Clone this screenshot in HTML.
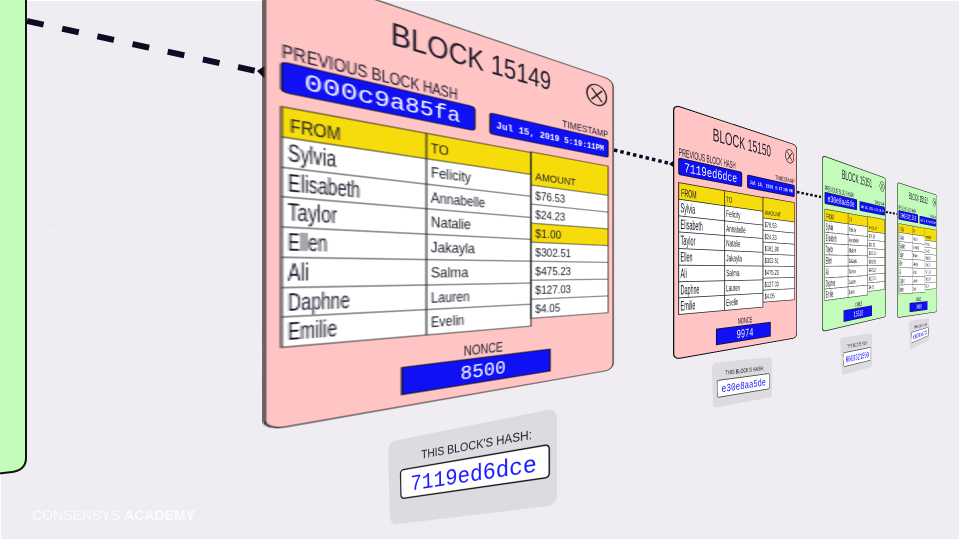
<!DOCTYPE html>
<html><head><meta charset="utf-8"><style>
html,body{margin:0;padding:0;}
body{width:960px;height:540px;overflow:hidden;position:relative;background:#efedf2;}
.bg{position:absolute;left:0;top:0;}
.cd{position:absolute;left:0;top:0;transform-origin:0 0;overflow:visible;}
svg text{font-family:"Liberation Sans",sans-serif;fill:#1c1b2b;}
svg text.m{font-family:"Liberation Mono",monospace;}
svg text.w{fill:#fff;}
</style></head><body>
<svg class="bg" width="960" height="540" viewBox="0 0 960 540">
<rect x="0.5" y="0.5" width="959" height="539" fill="#efedf2" stroke="#fff" stroke-width="1"/>
<g fill="none" stroke="#f2f1f5" stroke-width="1">
<circle cx="80" cy="140" r="95"/><circle cx="150" cy="360" r="110"/><circle cx="60" cy="300" r="70"/>
</g>
<path d="M-5 -5 H26 V458 Q26 470 12 472 L-5 474 Z" fill="#c2fdb9" stroke="#111" stroke-width="2"/>
<line x1="27" y1="21" x2="256" y2="71" stroke="#0d0a24" stroke-width="6" stroke-dasharray="17 19"/>
<polygon points="257,71 272,61 272,86" fill="#0d0a24"/>
<line x1="614" y1="150" x2="668" y2="163" stroke="#0d0a24" stroke-width="3.5" stroke-dasharray="3.5 3"/>
<polygon points="669,164 677,158 677,170" fill="#0d0a24"/>
<line x1="797" y1="192" x2="821" y2="197" stroke="#0d0a24" stroke-width="2.5" stroke-dasharray="2.5 2"/>
<line x1="886" y1="212" x2="897" y2="214" stroke="#0d0a24" stroke-width="2" stroke-dasharray="2 1.5"/>
<text x="32" y="520" font-size="14" style="fill:#fbfafc" textLength="163" lengthAdjust="spacingAndGlyphs">CONSENSYS <tspan font-weight="bold">ACADEMY</tspan></text>
</svg>

<!-- MAIN CARD -->
<svg id="c1" class="cd" width="260" height="472" viewBox="0 0 260 472">
<rect x="1" y="1" width="258" height="470" rx="10" fill="#ffc4c4" stroke="#111" stroke-width="1.2"/>
<text x="130" y="47" font-size="36" text-anchor="middle" textLength="124" lengthAdjust="spacingAndGlyphs">BLOCK 15149</text>
<text x="9" y="93" font-size="21" textLength="104" lengthAdjust="spacingAndGlyphs">PREVIOUS BLOCK HASH</text>
<rect x="9" y="97" width="117" height="31" rx="3" fill="#1010f5" stroke="#111" stroke-width="1"/>
<text class="m w" x="20" y="121" font-size="26" textLength="95" lengthAdjust="spacingAndGlyphs">000c9a85fa</text>
<ellipse cx="240" cy="33" rx="11" ry="16" fill="none" stroke="#111" stroke-width="1.6"/>
<path d="M234 24 L246 42 M246 24 L234 42" stroke="#111" stroke-width="1.6"/>
<text x="253" y="96" font-size="15" text-anchor="end" textLength="50" lengthAdjust="spacingAndGlyphs">TIMESTAMP</text>
<rect x="138" y="100" width="115" height="28" rx="3" fill="#1010f5" stroke="#111" stroke-width="1.2"/>
<text class="m w" x="143" y="119" font-size="12" font-weight="bold" textLength="105" lengthAdjust="spacingAndGlyphs">Jul 15, 2019 5:19:11PM</text>
<rect x="9" y="143" width="164" height="31" fill="#f7dc0b"/>
<rect x="9" y="174" width="164" height="215" fill="#fff"/>
<rect x="173" y="142" width="80" height="47" fill="#f7dc0b"/>
<rect x="173" y="189" width="80" height="189" fill="#fff"/>
<rect x="173" y="243" width="80" height="27" fill="#f7dc0b"/>
<g stroke="#222" stroke-width="1" fill="none">
<rect x="9" y="143" width="164" height="246"/><rect x="173" y="142" width="80" height="236"/>
<line x1="91" y1="143" x2="91" y2="389"/>
<path d="M9 174H173M9 205H173M9 235H173M9 266H173M9 297H173M9 328H173M9 358H173"/>
<path d="M173 189H253M173 216H253M173 243H253M173 270H253M173 297H253M173 324H253M173 351H253"/>
</g>
<text x="13" y="168" font-size="21" textLength="26" lengthAdjust="spacingAndGlyphs">FROM</text>
<text x="94" y="166" font-size="17" textLength="12.5" lengthAdjust="spacingAndGlyphs">TO</text>
<text x="177" y="181" font-size="14" textLength="40" lengthAdjust="spacingAndGlyphs">AMOUNT</text>
<g font-size="25">
<text x="12" y="198" textLength="24.6" lengthAdjust="spacingAndGlyphs">Sylvia</text>
<text x="12" y="229" textLength="38" lengthAdjust="spacingAndGlyphs">Elisabeth</text>
<text x="12" y="259" textLength="25" lengthAdjust="spacingAndGlyphs">Taylor</text>
<text x="12" y="290" textLength="20" lengthAdjust="spacingAndGlyphs">Ellen</text>
<text x="12" y="321" textLength="10.5" lengthAdjust="spacingAndGlyphs">Ali</text>
<text x="12" y="352" textLength="32" lengthAdjust="spacingAndGlyphs">Daphne</text>
<text x="12" y="382" textLength="25" lengthAdjust="spacingAndGlyphs">Emilie</text>
</g>
<g font-size="19">
<text x="94" y="196" textLength="29" lengthAdjust="spacingAndGlyphs">Felicity</text>
<text x="94" y="227" textLength="40" lengthAdjust="spacingAndGlyphs">Annabelle</text>
<text x="94" y="257" textLength="29" lengthAdjust="spacingAndGlyphs">Natalie</text>
<text x="94" y="288" textLength="32" lengthAdjust="spacingAndGlyphs">Jakayla</text>
<text x="94" y="319" textLength="27" lengthAdjust="spacingAndGlyphs">Salma</text>
<text x="94" y="350" textLength="28" lengthAdjust="spacingAndGlyphs">Lauren</text>
<text x="94" y="380" textLength="24" lengthAdjust="spacingAndGlyphs">Evelin</text>
</g>
<g font-size="17">
<text x="177" y="209" textLength="29" lengthAdjust="spacingAndGlyphs">$76.53</text>
<text x="177" y="236" textLength="29" lengthAdjust="spacingAndGlyphs">$24.23</text>
<text x="177" y="263" textLength="25" lengthAdjust="spacingAndGlyphs">$1.00</text>
<text x="177" y="290" textLength="35" lengthAdjust="spacingAndGlyphs">$302.51</text>
<text x="177" y="317" textLength="35" lengthAdjust="spacingAndGlyphs">$475.23</text>
<text x="177" y="344" textLength="35" lengthAdjust="spacingAndGlyphs">$127.03</text>
<text x="177" y="371" textLength="24" lengthAdjust="spacingAndGlyphs">$4.05</text>
</g>
<text x="133" y="420" font-size="18" text-anchor="middle" textLength="31" lengthAdjust="spacingAndGlyphs">NONCE</text>
<rect x="75" y="425" width="116" height="32" fill="#1010f5" stroke="#111" stroke-width="1.2"/>
<text class="m w" x="133" y="450" font-size="26" text-anchor="middle" textLength="36" lengthAdjust="spacingAndGlyphs">8500</text>
</svg>

<!-- CARD 15150 -->
<svg id="c2" class="cd" width="260" height="472" viewBox="0 0 260 472">
<rect x="1" y="1" width="258" height="470" rx="10" fill="#ffc4c4" stroke="#111" stroke-width="2"/>
<text x="130" y="47" font-size="36" text-anchor="middle" textLength="124" lengthAdjust="spacingAndGlyphs">BLOCK 15150</text>
<text x="9" y="93" font-size="21" textLength="104" lengthAdjust="spacingAndGlyphs">PREVIOUS BLOCK HASH</text>
<rect x="9" y="97" width="117" height="31" rx="3" fill="#1010f5" stroke="#111" stroke-width="1.5"/>
<text class="m w" x="18" y="121" font-size="26" textLength="98" lengthAdjust="spacingAndGlyphs">7119ed6dce</text>
<ellipse cx="240" cy="33" rx="11" ry="16" fill="none" stroke="#111" stroke-width="1.6"/>
<path d="M234 24 L246 42 M246 24 L234 42" stroke="#111" stroke-width="1.6"/>
<text x="253" y="96" font-size="15" text-anchor="end" textLength="50" lengthAdjust="spacingAndGlyphs">TIMESTAMP</text>
<rect x="138" y="100" width="115" height="28" rx="3" fill="#1010f5" stroke="#111" stroke-width="1.5"/>
<text class="m w" x="143" y="119" font-size="12" font-weight="bold" textLength="105" lengthAdjust="spacingAndGlyphs">Jul 15, 2019 5:47:40 PM</text>
<rect x="9" y="143" width="164" height="31" fill="#f7dc0b"/>
<rect x="9" y="174" width="164" height="215" fill="#fff"/>
<rect x="173" y="142" width="80" height="47" fill="#f7dc0b"/>
<rect x="173" y="189" width="80" height="189" fill="#fff"/>
<g stroke="#222" stroke-width="1.5" fill="none">
<rect x="9" y="143" width="164" height="246"/><rect x="173" y="142" width="80" height="236"/>
<line x1="91" y1="143" x2="91" y2="389"/>
<path d="M9 174H173M9 205H173M9 235H173M9 266H173M9 297H173M9 328H173M9 358H173"/>
<path d="M173 189H253M173 216H253M173 243H253M173 270H253M173 297H253M173 324H253M173 351H253"/>
</g>
<text x="13" y="168" font-size="21" textLength="26" lengthAdjust="spacingAndGlyphs">FROM</text>
<text x="94" y="166" font-size="17" textLength="12.5" lengthAdjust="spacingAndGlyphs">TO</text>
<text x="177" y="181" font-size="14" textLength="40" lengthAdjust="spacingAndGlyphs">AMOUNT</text>
<g font-size="25">
<text x="12" y="198" textLength="24.6" lengthAdjust="spacingAndGlyphs">Sylvia</text>
<text x="12" y="229" textLength="38" lengthAdjust="spacingAndGlyphs">Elisabeth</text>
<text x="12" y="259" textLength="25" lengthAdjust="spacingAndGlyphs">Taylor</text>
<text x="12" y="290" textLength="20" lengthAdjust="spacingAndGlyphs">Ellen</text>
<text x="12" y="321" textLength="10.5" lengthAdjust="spacingAndGlyphs">Ali</text>
<text x="12" y="352" textLength="32" lengthAdjust="spacingAndGlyphs">Daphne</text>
<text x="12" y="382" textLength="25" lengthAdjust="spacingAndGlyphs">Emilie</text>
</g>
<g font-size="19">
<text x="94" y="196" textLength="29" lengthAdjust="spacingAndGlyphs">Felicity</text>
<text x="94" y="227" textLength="40" lengthAdjust="spacingAndGlyphs">Annabelle</text>
<text x="94" y="257" textLength="29" lengthAdjust="spacingAndGlyphs">Natalie</text>
<text x="94" y="288" textLength="32" lengthAdjust="spacingAndGlyphs">Jakayla</text>
<text x="94" y="319" textLength="27" lengthAdjust="spacingAndGlyphs">Salma</text>
<text x="94" y="350" textLength="28" lengthAdjust="spacingAndGlyphs">Lauren</text>
<text x="94" y="380" textLength="24" lengthAdjust="spacingAndGlyphs">Evelin</text>
</g>
<g font-size="17">
<text x="177" y="209" textLength="29" lengthAdjust="spacingAndGlyphs">$76.53</text>
<text x="177" y="236" textLength="29" lengthAdjust="spacingAndGlyphs">$24.23</text>
<text x="177" y="263" textLength="35" lengthAdjust="spacingAndGlyphs">$181.90</text>
<text x="177" y="290" textLength="35" lengthAdjust="spacingAndGlyphs">$302.51</text>
<text x="177" y="317" textLength="35" lengthAdjust="spacingAndGlyphs">$475.23</text>
<text x="177" y="344" textLength="35" lengthAdjust="spacingAndGlyphs">$127.03</text>
<text x="177" y="371" textLength="24" lengthAdjust="spacingAndGlyphs">$4.05</text>
</g>
<text x="133" y="420" font-size="18" text-anchor="middle" textLength="31" lengthAdjust="spacingAndGlyphs">NONCE</text>
<rect x="75" y="425" width="116" height="32" fill="#1010f5" stroke="#111" stroke-width="1.5"/>
<text class="m w" x="133" y="450" font-size="26" text-anchor="middle" textLength="36" lengthAdjust="spacingAndGlyphs">9974</text>
</svg>

<!-- CARD 15151 -->
<svg id="c3" class="cd" width="260" height="472" viewBox="0 0 260 472">
<rect x="1" y="1" width="258" height="470" rx="10" fill="#c3fcba" stroke="#111" stroke-width="2"/>
<text x="130" y="47" font-size="36" text-anchor="middle" textLength="124" lengthAdjust="spacingAndGlyphs">BLOCK 15151</text>
<text x="9" y="93" font-size="21" textLength="104" lengthAdjust="spacingAndGlyphs">PREVIOUS BLOCK HASH</text>
<rect x="9" y="97" width="117" height="31" rx="3" fill="#1010f5" stroke="#111" stroke-width="1.5"/>
<text class="m w" x="18" y="121" font-size="26" textLength="98" lengthAdjust="spacingAndGlyphs">e30e8aa5de</text>
<ellipse cx="240" cy="33" rx="11" ry="16" fill="none" stroke="#111" stroke-width="1.6"/>
<path d="M234 24 L246 42 M246 24 L234 42" stroke="#111" stroke-width="1.6"/>
<text x="253" y="96" font-size="15" text-anchor="end" textLength="50" lengthAdjust="spacingAndGlyphs">TIMESTAMP</text>
<rect x="138" y="100" width="115" height="28" rx="3" fill="#1010f5" stroke="#111" stroke-width="1.5"/>
<text class="m w" x="143" y="119" font-size="12" font-weight="bold" textLength="105" lengthAdjust="spacingAndGlyphs">Jul 15, 2019 6:02:18 PM</text>
<rect x="9" y="143" width="164" height="31" fill="#f7dc0b"/>
<rect x="9" y="174" width="164" height="215" fill="#fff"/>
<rect x="173" y="142" width="80" height="47" fill="#f7dc0b"/>
<rect x="173" y="189" width="80" height="189" fill="#fff"/>
<g stroke="#222" stroke-width="1.5" fill="none">
<rect x="9" y="143" width="164" height="246"/><rect x="173" y="142" width="80" height="236"/>
<line x1="91" y1="143" x2="91" y2="389"/>
<path d="M9 174H173M9 205H173M9 235H173M9 266H173M9 297H173M9 328H173M9 358H173"/>
<path d="M173 189H253M173 216H253M173 243H253M173 270H253M173 297H253M173 324H253M173 351H253"/>
</g>
<text x="13" y="168" font-size="21" textLength="26" lengthAdjust="spacingAndGlyphs">FROM</text>
<text x="94" y="166" font-size="17" textLength="12.5" lengthAdjust="spacingAndGlyphs">TO</text>
<text x="177" y="181" font-size="14" textLength="40" lengthAdjust="spacingAndGlyphs">AMOUNT</text>
<g font-size="25">
<text x="12" y="198" textLength="24.6" lengthAdjust="spacingAndGlyphs">Sylvia</text>
<text x="12" y="229" textLength="38" lengthAdjust="spacingAndGlyphs">Elisabeth</text>
<text x="12" y="259" textLength="25" lengthAdjust="spacingAndGlyphs">Taylor</text>
<text x="12" y="290" textLength="20" lengthAdjust="spacingAndGlyphs">Ellen</text>
<text x="12" y="321" textLength="10.5" lengthAdjust="spacingAndGlyphs">Ali</text>
<text x="12" y="352" textLength="32" lengthAdjust="spacingAndGlyphs">Daphne</text>
<text x="12" y="382" textLength="25" lengthAdjust="spacingAndGlyphs">Emilie</text>
</g>
<g font-size="19">
<text x="94" y="196" textLength="29" lengthAdjust="spacingAndGlyphs">Felicity</text>
<text x="94" y="227" textLength="40" lengthAdjust="spacingAndGlyphs">Annabelle</text>
<text x="94" y="257" textLength="29" lengthAdjust="spacingAndGlyphs">Natalie</text>
<text x="94" y="288" textLength="32" lengthAdjust="spacingAndGlyphs">Jakayla</text>
<text x="94" y="319" textLength="27" lengthAdjust="spacingAndGlyphs">Salma</text>
<text x="94" y="350" textLength="28" lengthAdjust="spacingAndGlyphs">Lauren</text>
<text x="94" y="380" textLength="24" lengthAdjust="spacingAndGlyphs">Evelin</text>
</g>
<g font-size="17">
<text x="177" y="209" textLength="29" lengthAdjust="spacingAndGlyphs">$76.53</text>
<text x="177" y="236" textLength="29" lengthAdjust="spacingAndGlyphs">$24.23</text>
<text x="177" y="263" textLength="35" lengthAdjust="spacingAndGlyphs">$181.90</text>
<text x="177" y="290" textLength="35" lengthAdjust="spacingAndGlyphs">$302.51</text>
<text x="177" y="317" textLength="35" lengthAdjust="spacingAndGlyphs">$475.23</text>
<text x="177" y="344" textLength="35" lengthAdjust="spacingAndGlyphs">$127.03</text>
<text x="177" y="371" textLength="24" lengthAdjust="spacingAndGlyphs">$4.05</text>
</g>
<text x="133" y="420" font-size="18" text-anchor="middle" textLength="31" lengthAdjust="spacingAndGlyphs">NONCE</text>
<rect x="75" y="425" width="116" height="32" fill="#1010f5" stroke="#111" stroke-width="1.5"/>
<text class="m w" x="133" y="450" font-size="26" text-anchor="middle" textLength="40" lengthAdjust="spacingAndGlyphs">15510</text>
</svg>

<!-- CARD 15152 -->
<svg id="c4" class="cd" width="260" height="472" viewBox="0 0 260 472">
<rect x="1" y="1" width="258" height="470" rx="10" fill="#c3fcba" stroke="#111" stroke-width="2"/>
<text x="130" y="47" font-size="36" text-anchor="middle" textLength="124" lengthAdjust="spacingAndGlyphs">BLOCK 15152</text>
<text x="9" y="93" font-size="21" textLength="104" lengthAdjust="spacingAndGlyphs">PREVIOUS BLOCK HASH</text>
<rect x="9" y="97" width="117" height="31" rx="3" fill="#1010f5" stroke="#111" stroke-width="1.5"/>
<text class="m w" x="18" y="121" font-size="26" textLength="98" lengthAdjust="spacingAndGlyphs">0009321599</text>
<ellipse cx="240" cy="33" rx="11" ry="16" fill="none" stroke="#111" stroke-width="1.6"/>
<path d="M234 24 L246 42 M246 24 L234 42" stroke="#111" stroke-width="1.6"/>
<text x="253" y="96" font-size="15" text-anchor="end" textLength="50" lengthAdjust="spacingAndGlyphs">TIMESTAMP</text>
<rect x="138" y="100" width="115" height="28" rx="3" fill="#1010f5" stroke="#111" stroke-width="1.5"/>
<text class="m w" x="143" y="119" font-size="12" font-weight="bold" textLength="105" lengthAdjust="spacingAndGlyphs">Jul 15, 2019 6:15:02 PM</text>
<rect x="9" y="143" width="164" height="31" fill="#f7dc0b"/>
<rect x="9" y="174" width="164" height="215" fill="#fff"/>
<rect x="173" y="142" width="80" height="47" fill="#f7dc0b"/>
<rect x="173" y="189" width="80" height="189" fill="#fff"/>
<g stroke="#222" stroke-width="1.5" fill="none">
<rect x="9" y="143" width="164" height="246"/><rect x="173" y="142" width="80" height="236"/>
<line x1="91" y1="143" x2="91" y2="389"/>
<path d="M9 174H173M9 205H173M9 235H173M9 266H173M9 297H173M9 328H173M9 358H173"/>
<path d="M173 189H253M173 216H253M173 243H253M173 270H253M173 297H253M173 324H253M173 351H253"/>
</g>
<text x="13" y="168" font-size="21" textLength="26" lengthAdjust="spacingAndGlyphs">FROM</text>
<text x="94" y="166" font-size="17" textLength="12.5" lengthAdjust="spacingAndGlyphs">TO</text>
<text x="177" y="181" font-size="14" textLength="40" lengthAdjust="spacingAndGlyphs">AMOUNT</text>
<g font-size="25">
<text x="12" y="198" textLength="24.6" lengthAdjust="spacingAndGlyphs">Sylvia</text>
<text x="12" y="229" textLength="38" lengthAdjust="spacingAndGlyphs">Elisabeth</text>
<text x="12" y="259" textLength="25" lengthAdjust="spacingAndGlyphs">Taylor</text>
<text x="12" y="290" textLength="20" lengthAdjust="spacingAndGlyphs">Ellen</text>
<text x="12" y="321" textLength="10.5" lengthAdjust="spacingAndGlyphs">Ali</text>
<text x="12" y="352" textLength="32" lengthAdjust="spacingAndGlyphs">Daphne</text>
<text x="12" y="382" textLength="25" lengthAdjust="spacingAndGlyphs">Emilie</text>
</g>
<g font-size="19">
<text x="94" y="196" textLength="29" lengthAdjust="spacingAndGlyphs">Felicity</text>
<text x="94" y="227" textLength="40" lengthAdjust="spacingAndGlyphs">Annabelle</text>
<text x="94" y="257" textLength="29" lengthAdjust="spacingAndGlyphs">Natalie</text>
<text x="94" y="288" textLength="32" lengthAdjust="spacingAndGlyphs">Jakayla</text>
<text x="94" y="319" textLength="27" lengthAdjust="spacingAndGlyphs">Salma</text>
<text x="94" y="350" textLength="28" lengthAdjust="spacingAndGlyphs">Lauren</text>
<text x="94" y="380" textLength="24" lengthAdjust="spacingAndGlyphs">Evelin</text>
</g>
<g font-size="17">
<text x="177" y="209" textLength="29" lengthAdjust="spacingAndGlyphs">$76.53</text>
<text x="177" y="236" textLength="29" lengthAdjust="spacingAndGlyphs">$24.23</text>
<text x="177" y="263" textLength="35" lengthAdjust="spacingAndGlyphs">$181.90</text>
<text x="177" y="290" textLength="35" lengthAdjust="spacingAndGlyphs">$302.51</text>
<text x="177" y="317" textLength="35" lengthAdjust="spacingAndGlyphs">$475.23</text>
<text x="177" y="344" textLength="35" lengthAdjust="spacingAndGlyphs">$127.03</text>
<text x="177" y="371" textLength="24" lengthAdjust="spacingAndGlyphs">$4.05</text>
</g>
<text x="133" y="420" font-size="18" text-anchor="middle" textLength="31" lengthAdjust="spacingAndGlyphs">NONCE</text>
<rect x="75" y="425" width="116" height="32" fill="#1010f5" stroke="#111" stroke-width="1.5"/>
<text class="m w" x="133" y="450" font-size="26" text-anchor="middle" textLength="36" lengthAdjust="spacingAndGlyphs">9968</text>
</svg>

<!-- HASH PANELS -->
<svg id="h1" class="cd" width="200" height="100" viewBox="0 0 200 100">
<rect x="0" y="0" width="200" height="100" rx="10" fill="#dcdbe0"/>
<text x="109" y="27" font-size="14" text-anchor="middle" textLength="130" lengthAdjust="spacingAndGlyphs">THIS BLOCK'S HASH:</text>
<rect x="16" y="36" width="176" height="34" rx="4" fill="#fff" stroke="#111" stroke-width="1.5"/>
<text class="m" x="104" y="62" font-size="26" text-anchor="middle" textLength="150" lengthAdjust="spacingAndGlyphs" style="fill:#1a1aff">7119ed6dce</text>
</svg>
<svg id="h2" class="cd" width="200" height="100" viewBox="0 0 200 100">
<rect x="0" y="0" width="200" height="100" rx="10" fill="#dcdbe0"/>
<text x="105" y="30" font-size="14" text-anchor="middle" textLength="130" lengthAdjust="spacingAndGlyphs">THIS BLOCK'S HASH:</text>
<rect x="14" y="40" width="176" height="38" rx="4" fill="#fff" stroke="#111" stroke-width="1.5"/>
<text class="m" x="102" y="68" font-size="26" text-anchor="middle" textLength="150" lengthAdjust="spacingAndGlyphs" style="fill:#1a1aff">e30e8aa5de</text>
</svg>
<svg id="h3" class="cd" width="200" height="100" viewBox="0 0 200 100">
<rect x="0" y="0" width="200" height="100" rx="10" fill="#dcdbe0"/>
<text x="105" y="30" font-size="14" text-anchor="middle" textLength="130" lengthAdjust="spacingAndGlyphs">THIS BLOCK'S HASH:</text>
<rect x="14" y="40" width="176" height="38" rx="4" fill="#fff" stroke="#111" stroke-width="1.5"/>
<text class="m" x="102" y="68" font-size="26" text-anchor="middle" textLength="150" lengthAdjust="spacingAndGlyphs" style="fill:#1a1aff">0009321599</text>
</svg>
<svg id="h4" class="cd" width="200" height="100" viewBox="0 0 200 100">
<rect x="0" y="0" width="200" height="100" rx="10" fill="#dcdbe0"/>
<text x="105" y="30" font-size="14" text-anchor="middle" textLength="130" lengthAdjust="spacingAndGlyphs">THIS BLOCK'S HASH:</text>
<rect x="14" y="40" width="176" height="38" rx="4" fill="#fff" stroke="#111" stroke-width="1.5"/>
<text class="m" x="102" y="68" font-size="26" text-anchor="middle" textLength="150" lengthAdjust="spacingAndGlyphs" style="fill:#1a1aff">0008ae723</text>
</svg>

<script>
function fit(id,W,H,q){
  var el=document.getElementById(id);
  var x0=q[0],y0=q[1],x1=q[2],y1=q[3],x2=q[4],y2=q[5],x3=q[6],y3=q[7];
  var dx1=x1-x2,dx2=x3-x2,dx3=x0-x1+x2-x3,dy1=y1-y2,dy2=y3-y2,dy3=y0-y1+y2-y3;
  var den=dx1*dy2-dx2*dy1;
  var g=(dx3*dy2-dx2*dy3)/den,h=(dx1*dy3-dx3*dy1)/den;
  var a=x1-x0+g*x1,b=x3-x0+h*x3,c=x0,d=y1-y0+g*y1,e=y3-y0+h*y3,f=y0;
  var m=[a/W,d/W,0,g/W,b/H,e/H,0,h/H,0,0,1,0,c,f,0,1];
  el.style.transform='matrix3d('+m.join(',')+')';
}
fit('c1',260,472,[262,-40,614,80,614,370,262,432]);
fit('c2',260,472,[673,104,797,145,797,338,673,360]);
fit('c3',260,472,[822,155,886,178,886,317,822,332]);
fit('c4',260,472,[897,182,937,195,937,312,897,318]);
fit('h1',200,100,[388,442,557,408,557,505,390,525]);
fit('h2',200,100,[712,363,772,357,772,397,713,408]);
fit('h3',200,100,[840,338,872,333,872,367,842,375]);
fit('h4',200,100,[909,321,929,318,929,340,910,350]);
</script>
</body></html>
